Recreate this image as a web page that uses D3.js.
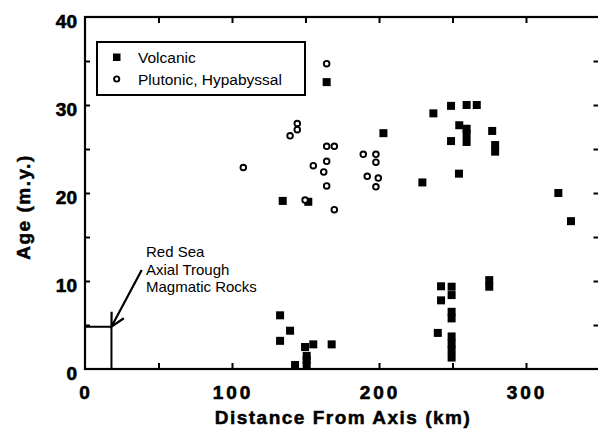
<!DOCTYPE html>
<html>
<head>
<meta charset="utf-8">
<script src="https://cdn.jsdelivr.net/npm/d3@7"></script>
<style>
	body { margin: 0; background: #fff; }
	svg { display: block; font-family: "Liberation Sans", Arial, Helvetica, sans-serif; }
</style>
</head>
<body>
<svg width="598" height="430"></svg>
<script>
// data (distance in km, age in m.y.)
var volcanicKm = [164.4, 237, 249, 259.6, 266.5, 254.6, 259.6, 259.6, 259.6, 249, 277, 279, 279,
	254.4, 229.5, 203, 322, 330.6, 134.5, 151.9,
	275, 275, 242.2, 249.4, 249.4, 242.2, 249.4, 249.4, 240, 249.4, 249.4, 249.4, 249.4,
	132.7, 139.5, 132.7, 149.7, 155.3, 167.8, 142.9, 150.8, 150.8, 150.8];
var volcanicAge = [32.6, 29.05, 29.9, 30.0, 30.0, 27.7, 27.3, 26.7, 25.8, 25.9, 27.05, 25.45, 24.7,
	22.2, 21.2, 26.8, 20.0, 16.8, 19.1, 19.0,
	10.1, 9.35, 9.4, 9.35, 8.4, 7.8, 6.5, 5.75, 4.1, 3.7, 2.9, 2.15, 1.3,
	6.1, 4.35, 3.2, 2.5, 2.8, 2.8, 0.45, 1.5, 1.0, 0.45];
var plutonicKm = [164.4, 107.7, 139.5, 144.4, 144.4, 164.4, 169.6, 155.3, 164.4, 162.4, 164.4, 169.6,
	149.7, 189.3, 197.9, 197.9, 192, 199.5, 197.9];
var plutonicAge = [34.7, 22.9, 26.5, 27.2, 27.9, 25.3, 25.3, 23.1, 23.6, 22.4, 20.8, 18.1,
	19.2, 24.4, 24.4, 23.5, 21.9, 21.7, 20.7];
var xTicks = [0, 100, 200, 300];
var yTicks = [0, 10, 20, 30, 40];
var legendLabels = ["Volcanic", "Plutonic, Hypabyssal"];
var noteLines = ["Red Sea", "Axial Trough", "Magmatic Rocks"];
var troughKm = 18, troughAge = 4.8;

var svg = d3.select("svg");
var x = d3.scaleLinear().domain([0, 350]).range([85, 599.5]);
var y = d3.scaleLinear().domain([0, 40]).range([369, 17]);

// frame
svg.append("rect")
	.attr("x", x(0)).attr("y", y(40))
	.attr("width", x(350) - x(0)).attr("height", y(0) - y(40))
	.attr("fill", "none").attr("stroke", "#000").attr("stroke-width", 2.2);

// inward ticks on all four sides
var minorX = d3.range(50, 350, 50), minorY = d3.range(5, 40, 5);
svg.append("g").attr("transform", "translate(0," + y(0) + ")")
	.call(d3.axisTop(x).tickValues(minorX).tickSize(6).tickFormat(""));
svg.append("g").attr("transform", "translate(0," + y(40) + ")")
	.call(d3.axisBottom(x).tickValues(minorX).tickSize(6).tickFormat(""));
svg.append("g").attr("transform", "translate(" + x(0) + ",0)")
	.call(d3.axisRight(y).tickValues(minorY).tickSize(5).tickFormat(""));
svg.append("g").attr("transform", "translate(" + (x(350) - 1) + ",0)")
	.call(d3.axisLeft(y).tickValues(minorY).tickSize(5).tickFormat(""));
svg.selectAll(".domain").remove();
svg.selectAll(".tick line").attr("stroke-width", 2);

// tick labels (heavy face, thickened with a thin stroke)
svg.selectAll(".xlab").data(xTicks).enter().append("text")
	.attr("x", function (d) { return x(d) + 1; })
	.attr("y", 399)
	.attr("text-anchor", "middle")
	.attr("font-size", 19).attr("font-weight", "bold")
	.attr("letter-spacing", 3)
	.attr("stroke", "#000").attr("stroke-width", 0.6)
	.text(function (d) { return d; });
svg.selectAll(".ylab").data(yTicks).enter().append("text")
	.attr("x", 77)
	.attr("y", function (d) { return y(d) + 11; })
	.attr("text-anchor", "end")
	.attr("font-size", 19).attr("font-weight", "bold")
	.attr("stroke", "#000").attr("stroke-width", 0.6)
	.text(function (d) { return d; });

// axis titles
svg.append("text")
	.attr("x", 343).attr("y", 424)
	.attr("text-anchor", "middle")
	.attr("font-size", 19).attr("font-weight", "bold").attr("letter-spacing", 1.5)
	.attr("stroke", "#000").attr("stroke-width", 0.5)
	.text("Distance From Axis (km)");
svg.append("text")
	.attr("transform", "translate(30,207) rotate(-90)")
	.attr("text-anchor", "middle")
	.attr("font-size", 19).attr("font-weight", "bold").attr("letter-spacing", 1.5)
	.attr("stroke", "#000").attr("stroke-width", 0.5)
	.text("Age (m.y.)");

// axial trough box and arrow
svg.append("rect")
	.attr("x", x(0)).attr("y", y(troughAge))
	.attr("width", x(troughKm) - x(0)).attr("height", y(0) - y(troughAge))
	.attr("fill", "none").attr("stroke", "#000").attr("stroke-width", 2);
var tip = [x(troughKm), y(troughAge)], tail = [141.7, 270];
var ang = Math.atan2(tail[1] - tip[1], tail[0] - tip[0]), barb = 15, spread = 0.48;
svg.append("path")
	.attr("d", "M" + tail + "L" + tip +
		"M" + [tip[0] + barb * Math.cos(ang - spread), tip[1] + barb * Math.sin(ang - spread)] + "L" + tip +
		"L" + [tip[0] + barb * Math.cos(ang + spread), tip[1] + barb * Math.sin(ang + spread)])
	.attr("fill", "none").attr("stroke", "#000").attr("stroke-width", 2.2);
svg.selectAll(".note").data(noteLines).enter().append("text")
	.attr("x", 146).attr("y", function (d, i) { return 257 + i * 17.5; })
	.attr("font-size", 15)
	.text(function (d) { return d; });

// points
svg.selectAll(".volc").data(volcanicKm).enter().append("rect")
	.attr("x", function (d) { return x(d) - 4; })
	.attr("y", function (d, i) { return y(volcanicAge[i]) - 4; })
	.attr("width", 8).attr("height", 8)
	.attr("fill", "#000");
svg.selectAll(".plut").data(plutonicKm).enter().append("circle")
	.attr("cx", function (d) { return x(d); })
	.attr("cy", function (d, i) { return y(plutonicAge[i]); })
	.attr("r", 2.8)
	.attr("fill", "#fff").attr("stroke", "#000").attr("stroke-width", 1.9);

// legend
var legend = svg.append("g");
legend.append("rect")
	.attr("x", 97).attr("y", 42).attr("width", 208).attr("height", 53)
	.attr("fill", "#fff").attr("stroke", "#000").attr("stroke-width", 2);
legend.append("rect").attr("x", 113).attr("y", 53.5).attr("width", 7.5).attr("height", 7.5).attr("fill", "#000");
legend.append("circle").attr("cx", 116.7).attr("cy", 79).attr("r", 2.6)
	.attr("fill", "#fff").attr("stroke", "#000").attr("stroke-width", 1.9);
legend.selectAll(".leglab").data(legendLabels).enter().append("text")
	.attr("x", 138).attr("y", function (d, i) { return 62.5 + i * 22; })
	.attr("font-size", 15.5)
	.text(function (d) { return d; });
</script>
</body>
</html>
